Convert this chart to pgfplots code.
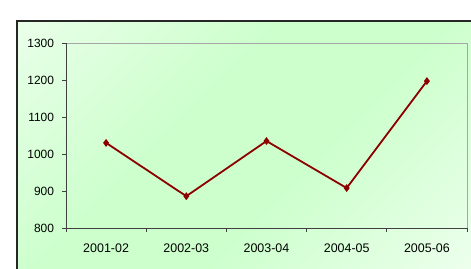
\documentclass[border=0pt]{standalone}
\usepackage{pgfplots}
\pgfplotsset{compat=1.18}
\usepackage{fontspec}
\setmainfont{Liberation Sans}
\definecolor{linered}{RGB}{140,0,0}
\definecolor{bggreen}{RGB}{204,255,204}
\pgfdeclarelayer{background}
\pgfsetlayers{background,main}
\pgfdeclareverticalshading{bgsh}{100bp}{color(0bp)=(white); color(22bp)=(bggreen!55!white); color(42bp)=(bggreen); color(58bp)=(bggreen); color(80bp)=(bggreen!55!white); color(100bp)=(white)}
\begin{document}
\begin{tikzpicture}
\begin{axis}[
  scale only axis, width=401bp, height=185bp,
  xmin=-0.5, xmax=4.5, ymin=800, ymax=1300,
  ytick={800,900,1000,1100,1200,1300},
  xtick={0,1,2,3,4},
  xticklabels={2001-02,2002-03,2003-04,2004-05,2005-06},
  minor xtick={-0.5,0.5,1.5,2.5,3.5,4.5},
  major x tick style={draw=none},
  tick align=outside, tick pos=left,
  major tick length=4bp, minor tick length=4bp,
  tick style={black!75, line width=0.8bp},
  axis line style={draw=none},
  /pgf/number format/assume math mode=true,
  /pgf/number format/1000 sep={},
  yticklabel style={font=\fontsize{12}{14}\selectfont, xshift=-4.5bp},
  xticklabel style={font=\fontsize{12.5}{14}\selectfont, yshift=-8bp},
  clip=false,
]
\coordinate (O) at (rel axis cs:0,0);
\draw[gray!70, line width=0.8bp] (rel axis cs:0,1) -- (rel axis cs:1,1) -- (rel axis cs:1,0);
\draw[black!75, line width=1bp] (rel axis cs:0,1) -- (rel axis cs:0,0) -- (rel axis cs:1,0);
\addplot[linered, line width=1.8bp, mark=diamond*, mark size=2.5bp, mark options={linered}] coordinates {
(0,1030) (1,886) (2,1035) (3,908) (4,1197)
};
\end{axis}
\pgfresetboundingbox
\begin{scope}[shift={(O)}, x=1bp, y=1bp]
\path[use as bounding box] (-66,-40) rectangle (405,228);
\begin{pgfonlayer}{background}
\clip (-66,-40) rectangle (405,228);
\shade[shading=bgsh, shading angle=45] (-49,-40) rectangle (405,207);
\draw[line width=1.2bp, black!85] (-49,-45) -- (-49,207) -- (415,207);
\end{pgfonlayer}
\end{scope}
\end{tikzpicture}
\end{document}
